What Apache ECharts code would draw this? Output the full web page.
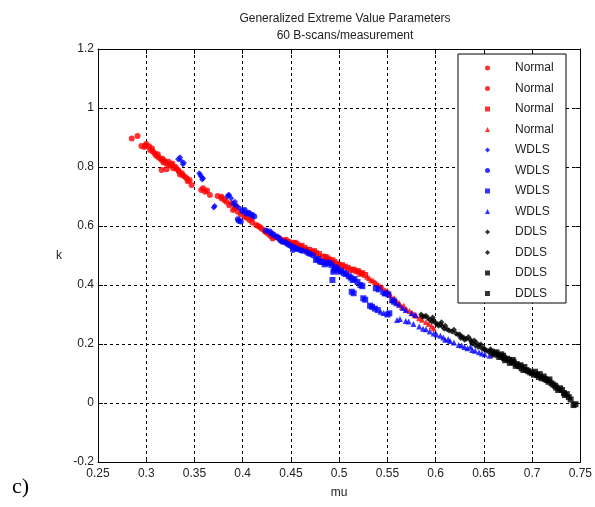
<!DOCTYPE html>
<html>
<head>
<meta charset="utf-8">
<script src="https://cdn.jsdelivr.net/npm/echarts@6/dist/echarts.min.js"></script>
<style>
  html, body { margin: 0; padding: 0; background: #fff; }
  #chart { width: 595px; height: 507px; }
</style>
</head>
<body>
<div id="chart"></div>
<script>
// Tick labels
const xTicks = ['0.25', '0.3', '0.35', '0.4', '0.45', '0.5', '0.55', '0.6', '0.65', '0.7', '0.75'];
const yTicks = ['-0.2', '0', '0.2', '0.4', '0.6', '0.8', '1', '1.2'];

// Legend labels, one per series
const seriesLabels = ['Normal', 'Normal', 'Normal', 'Normal', 'WDLS', 'WDLS', 'WDLS', 'WDLS', 'DDLS', 'DDLS', 'DDLS', 'DDLS'];

// [mu, k] pairs per measurement group
const normal1 = [[0.285,0.897],[0.291,0.905],[0.295,0.871],[0.300,0.878],[0.306,0.863],[0.309,0.846],[0.312,0.835],[0.316,0.824],[0.323,0.818],[0.326,0.807],[0.330,0.801],[0.333,0.790],[0.337,0.779],[0.340,0.767],[0.345,0.756],[0.347,0.739],[0.316,0.790],[0.321,0.792],[0.303,0.870],[0.318,0.815],[0.328,0.796],[0.335,0.775],
  [0.298,0.868],[0.304,0.858],[0.307,0.852],[0.310,0.840],[0.314,0.830],[0.319,0.820],[0.321,0.812],[0.324,0.805],[0.327,0.812],[0.331,0.795],[0.334,0.785],[0.338,0.772],[0.342,0.762],[0.343,0.752],[0.299,0.873],[0.312,0.843],[0.317,0.828]];
const normal2 = [[0.357,0.722],[0.361,0.716],[0.378,0.699],[0.381,0.688],[0.378,0.694],[0.388,0.677],[0.390,0.654],[0.407,0.620],[0.414,0.603],[0.423,0.581],[0.431,0.558],[0.445,0.553],[0.448,0.547],[0.366,0.705],[0.395,0.648],[0.402,0.632],[0.418,0.596],[0.427,0.572],[0.437,0.560],[0.442,0.548],
  [0.359,0.728],[0.363,0.720],[0.374,0.702],[0.383,0.682],[0.386,0.670],[0.392,0.660],[0.398,0.640],[0.404,0.628],[0.410,0.612],[0.416,0.600],[0.420,0.590],[0.425,0.578],[0.429,0.566],[0.434,0.562],[0.439,0.556],[0.443,0.552],[0.447,0.546],[0.393,0.668],[0.409,0.625]];
const normal3 = [[0.452,0.541],[0.459,0.530],[0.466,0.519],[0.469,0.519],[0.483,0.496],[0.500,0.468],[0.512,0.451],[0.524,0.440],[0.476,0.508],[0.490,0.485],[0.495,0.478],[0.506,0.462],[0.518,0.447],[0.456,0.538],[0.472,0.512],
  [0.454,0.543],[0.461,0.533],[0.464,0.526],[0.474,0.515],[0.479,0.505],[0.486,0.495],[0.493,0.484],[0.497,0.472],[0.503,0.467],[0.509,0.458],[0.515,0.452],[0.520,0.446],[0.522,0.438],[0.527,0.434],[0.488,0.490]];
const normal4 = [[0.533,0.417],[0.541,0.400],[0.552,0.372],[0.559,0.349],[0.543,0.394],[0.555,0.349],[0.565,0.326],[0.576,0.304],[0.583,0.287],[0.598,0.253],[0.529,0.428],[0.537,0.410],[0.548,0.382],[0.570,0.318],[0.580,0.296],[0.590,0.275],
  [0.531,0.424],[0.535,0.415],[0.539,0.405],[0.545,0.392],[0.550,0.380],[0.553,0.366],[0.557,0.356],[0.562,0.340],[0.567,0.330],[0.573,0.312],[0.578,0.300],[0.586,0.282],[0.593,0.268],[0.596,0.260],[0.563,0.334]];

const wdls1 = [[0.335,0.833],[0.338,0.809],[0.355,0.779],[0.359,0.762],[0.357,0.767],[0.370,0.663],[0.385,0.705],[0.390,0.677],[0.386,0.705],[0.392,0.682],[0.333,0.826],
  [0.336,0.822],[0.339,0.814],[0.356,0.774],[0.358,0.758],[0.371,0.668],[0.384,0.700],[0.388,0.694],[0.391,0.672],[0.394,0.668],[0.397,0.660]];
const wdls2 = [[0.402,0.654],[0.410,0.637],[0.395,0.623],[0.398,0.615],[0.428,0.581],[0.435,0.564],[0.441,0.547],[0.448,0.536],[0.455,0.524],[0.466,0.513],[0.452,0.519],[0.406,0.645],[0.432,0.570],[0.460,0.518],[0.470,0.505],
  [0.400,0.650],[0.404,0.642],[0.408,0.640],[0.412,0.632],[0.396,0.618],[0.424,0.585],[0.430,0.575],[0.437,0.560],[0.439,0.552],[0.444,0.545],[0.446,0.540],[0.450,0.532],[0.453,0.528],[0.457,0.522],[0.462,0.516],[0.468,0.508],[0.473,0.500]];
const wdls3 = [[0.476,0.485],[0.490,0.474],[0.495,0.451],[0.493,0.417],[0.505,0.440],[0.514,0.417],[0.522,0.400],[0.513,0.377],[0.525,0.355],[0.534,0.326],[0.540,0.315],[0.552,0.304],[0.538,0.389],[0.548,0.372],[0.557,0.343],[0.480,0.480],[0.485,0.470],[0.498,0.455],[0.500,0.445],[0.510,0.430],
  [0.478,0.488],[0.482,0.478],[0.487,0.476],[0.492,0.468],[0.496,0.460],[0.494,0.445],[0.502,0.448],[0.507,0.437],[0.512,0.425],[0.516,0.420],[0.519,0.410],[0.524,0.396],[0.515,0.372],[0.527,0.350],[0.532,0.330],[0.537,0.320],[0.550,0.300],[0.541,0.385],[0.551,0.368],[0.555,0.348]];
const wdls4 = [[0.545,0.377],[0.559,0.338],[0.569,0.315],[0.579,0.298],[0.543,0.309],[0.560,0.281],[0.572,0.276],[0.583,0.259],[0.598,0.236],[0.610,0.214],[0.624,0.197],[0.638,0.180],[0.648,0.168],[0.636,0.191],[0.605,0.228],[0.615,0.210],[0.630,0.190],[0.590,0.250],
  [0.547,0.372],[0.562,0.333],[0.566,0.322],[0.575,0.305],[0.546,0.305],[0.563,0.285],[0.569,0.278],[0.577,0.268],[0.587,0.252],[0.594,0.242],[0.601,0.232],[0.608,0.222],[0.613,0.216],[0.619,0.205],[0.627,0.195],[0.633,0.186],[0.641,0.177],[0.645,0.172],[0.651,0.165],[0.656,0.160]];

const ddls1 = [[0.585,0.300],[0.588,0.293],[0.596,0.276],[0.607,0.259],[0.617,0.242],[0.592,0.288],[0.600,0.270],[0.612,0.250],[0.621,0.236],[0.603,0.262],
  [0.586,0.292],[0.590,0.296],[0.594,0.282],[0.598,0.280],[0.602,0.268],[0.605,0.266],[0.609,0.252],[0.610,0.262],[0.614,0.246],[0.619,0.248],[0.623,0.232],[0.597,0.290],[0.606,0.274]];
const ddls2 = [[0.627,0.225],[0.638,0.202],[0.648,0.185],[0.655,0.174],[0.636,0.214],[0.645,0.197],[0.632,0.218],[0.642,0.205],[0.651,0.180],[0.660,0.170],
  [0.625,0.232],[0.629,0.222],[0.630,0.214],[0.634,0.224],[0.637,0.208],[0.640,0.212],[0.644,0.190],[0.647,0.198],[0.650,0.186],[0.653,0.178],[0.657,0.182],[0.659,0.162],[0.626,0.220],[0.641,0.196]];
const ddls3 = [[0.658,0.174],[0.669,0.157],[0.679,0.140],[0.689,0.118],[0.664,0.163],[0.674,0.150],[0.684,0.132],[0.694,0.112],[0.672,0.145],[0.686,0.125],
  [0.661,0.168],[0.663,0.172],[0.666,0.156],[0.668,0.165],[0.671,0.152],[0.676,0.146],[0.677,0.136],[0.681,0.138],[0.683,0.126],[0.688,0.128],[0.691,0.112],[0.692,0.122],[0.696,0.108],[0.670,0.160],[0.680,0.146]];
const ddls4 = [[0.700,0.101],[0.710,0.084],[0.720,0.067],[0.731,0.044],[0.734,0.027],[0.727,0.044],[0.743,-0.007],[0.705,0.095],[0.715,0.078],[0.724,0.058],[0.738,0.020],[0.712,0.090],
  [0.698,0.104],[0.702,0.096],[0.703,0.106],[0.707,0.088],[0.708,0.098],[0.713,0.082],[0.717,0.072],[0.718,0.080],[0.722,0.062],[0.725,0.052],[0.729,0.050],[0.733,0.034],[0.736,0.030],[0.740,0.012],[0.745,-0.004]];

const groups = [normal1, normal2, normal3, normal4, wdls1, wdls2, wdls3, wdls4, ddls1, ddls2, ddls3, ddls4];
const colors = ['#ff0000', '#ff0000', '#ff0000', '#ff0000', '#0000ff', '#0000ff', '#0000ff', '#0000ff', '#000000', '#000000', '#000000', '#000000'];
const symbols = ['circle', 'circle', 'rect', 'triangle', 'diamond', 'circle', 'rect', 'triangle', 'diamond', 'diamond', 'rect', 'rect'];

const FONT = 'Liberation Sans, Arial, sans-serif';
const TXT = '#222';

function tickText(list) {
  return function (v) {
    const hit = list.find(function (t) { return Math.abs(parseFloat(t) - v) < 1e-6; });
    return hit === undefined ? '' : hit;
  };
}

const series = groups.map(function (pts, i) {
  return {
    type: 'scatter',
    name: seriesLabels[i] + '#' + i,
    data: pts,
    symbol: symbols[i],
    symbolSize: 6,
    itemStyle: { color: colors[i] },
    emphasis: { disabled: true },
    z: 2
  };
});

const gridLine = { show: true, lineStyle: { color: '#000', type: [3, 3], width: 1 } };
const axisLine = { show: true, onZero: false, lineStyle: { color: '#000', width: 1 } };
const tick = { show: true, inside: true, length: 5, lineStyle: { color: '#000' } };

const chart = echarts.init(document.getElementById('chart'), null, { renderer: 'canvas' });
chart.setOption({
  animation: false,
  backgroundColor: '#fff',
  title: {
    text: 'Generalized Extreme Value Parameters\n60 B-scans/measurement',
    left: 340,
    top: 5,
    textAlign: 'center',
    textStyle: { fontFamily: FONT, fontSize: 12, fontWeight: 'normal', color: TXT, lineHeight: 17 }
  },
  grid: { left: 98, right: 13, top: 49, bottom: 45, containLabel: false },
  xAxis: [
    {
      type: 'value', min: 0.25, max: 0.75, interval: 0.05, position: 'bottom',
      axisLine: axisLine, axisTick: tick, splitLine: gridLine,
      axisLabel: { formatter: tickText(xTicks), color: TXT, fontFamily: FONT, fontSize: 12, margin: 6 },
      name: 'mu', nameLocation: 'middle', nameGap: 25,
      nameTextStyle: { color: TXT, fontFamily: FONT, fontSize: 12 }
    },
    {
      type: 'value', min: 0.25, max: 0.75, interval: 0.05, position: 'top',
      axisLine: axisLine, axisTick: tick, splitLine: { show: false }, axisLabel: { show: false }
    }
  ],
  yAxis: [
    {
      type: 'value', min: -0.2, max: 1.2, interval: 0.2, position: 'left',
      axisLine: axisLine, axisTick: tick, splitLine: gridLine,
      axisLabel: { formatter: tickText(yTicks), color: TXT, fontFamily: FONT, fontSize: 12, margin: 4 },
      name: 'k', nameLocation: 'middle', nameGap: 36, nameRotate: 0,
      nameTextStyle: { color: TXT, fontFamily: FONT, fontSize: 12 }
    },
    {
      type: 'value', min: -0.2, max: 1.2, interval: 0.2, position: 'right',
      axisLine: axisLine, axisTick: tick, splitLine: { show: false }, axisLabel: { show: false }
    }
  ],
  legend: {
    orient: 'vertical',
    left: 458,
    top: 54,
    padding: [8, 8, 4, 27],
    itemWidth: 5,
    itemHeight: 5,
    itemGap: 8.5,
    z: 10,
    selectedMode: false,
    data: series.map(function (s) { return s.name; }),
    formatter: function (name) { return '{t|' + name.split('#')[0] + '}'; },
    textStyle: {
      rich: { t: { fontFamily: FONT, fontSize: 12, color: TXT, lineHeight: 14, padding: [0, 0, 0, 20] } }
    }
  },
  graphic: [
    {
      type: 'rect', z: 8, silent: true,
      shape: { x: 458, y: 54, width: 108, height: 249 },
      style: { fill: '#fff', stroke: '#000', lineWidth: 1 }
    },
    {
      type: 'text', left: 12, top: 476, silent: true,
      style: { text: 'c)', fontFamily: 'Liberation Serif, Times New Roman, serif', fontSize: 22, fill: '#000' }
    }
  ],
  series: series
});
</script>
</body>
</html>
